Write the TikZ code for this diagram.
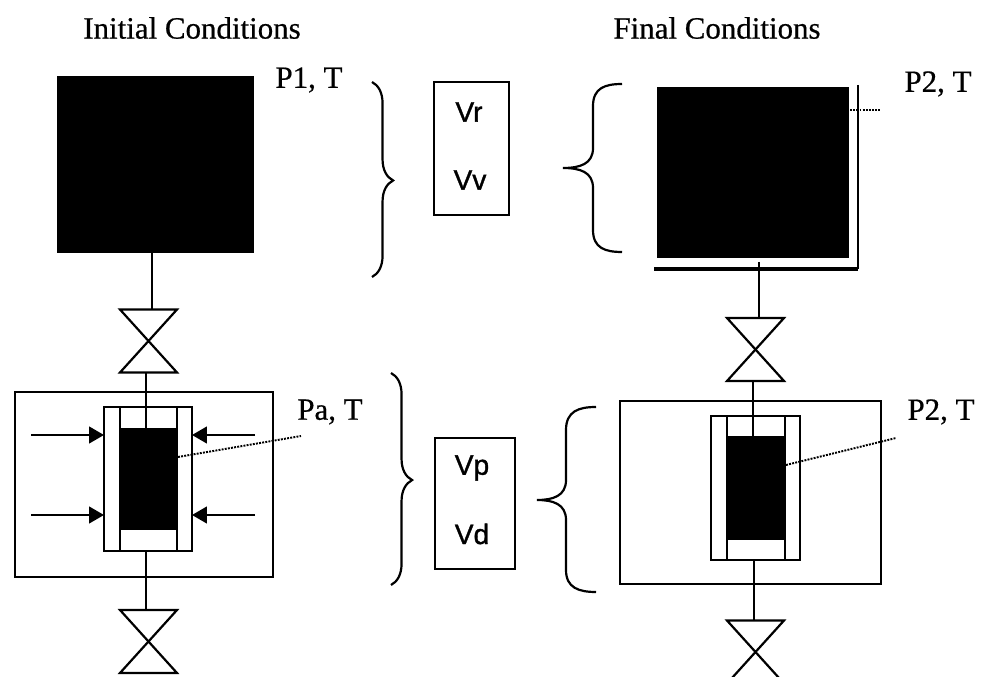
\documentclass[tikz,border=0pt]{standalone}
\usepackage{fontspec}
\setmainfont{Liberation Serif}[FakeBold=0.6]
\setsansfont{Liberation Sans}[FakeBold=1.2]
\usetikzlibrary{arrows.meta,decorations.pathreplacing}

\begin{document}
\begin{tikzpicture}[x=0.2mm, y=-0.2mm, line width=1.25pt,
    title/.style = {font=\fontsize{17.6}{20}\selectfont},
    volume/.style = {font=\sffamily\fontsize{16}{18}\selectfont},
    solid box/.style = {draw, fill=black, inner sep=0, outer sep=0},
    open box/.style = {draw, inner sep=0, outer sep=0},
    valve/.style = {inner sep=0, outer sep=0, minimum width=11.4mm, minimum height=12.6mm},
    push/.style = {-{Triangle[length=8.5pt, width=9.5pt]}},
    probe/.style = {dash pattern=on 1.1pt off 0.7pt, line width=1.1pt},
    curly/.style = {decorate, decoration={brace, amplitude=#1, aspect=0.505}}]
    \useasboundingbox (0,0) rectangle (983,677);
    \clip (0,0) rectangle (983,677);

    % headings and labels
    \node[title] (initial) at (192,28) {Initial Conditions};
    \node[title] (final) at (717,28) {Final Conditions};
    \node[title] (p1) at (309,80) {P1, T};
    \node[title] (pa) at (330,412) {Pa, T};
    \node[title] (p2top) at (938,84) {P2, T};
    \node[title] (p2low) at (941,412) {P2, T};

    % tanks
    \node[solid box, minimum width=39mm, minimum height=35mm] (tankA) at (155.5,164.5) {};
    \node[solid box, minimum width=38mm, minimum height=33.8mm] (tankB) at (753,172.5) {};
    \coordinate (wallB) at (858,85);
    \coordinate (footB) at (654,269);
    \draw (wallB) -- (wallB |- footB);
    \draw[line width=2pt] (footB) -- (wallB |- footB);

    % valves
    \node[valve] (valveA) at (148.5,341) {};
    \node[valve] (valveB) at (148.5,641.5) {};
    \node[valve] (valveC) at (755.5,349.5) {};
    \node[valve] (valveD) at (755.5,652) {};
    \foreach \v in {valveA, valveB, valveC, valveD}
        \draw (\v.north west) -- (\v.south east) -- (\v.south west) -- (\v.north east) -- cycle;

    % sample holders
    \node[open box, minimum width=51.6mm, minimum height=37mm] (ovenA) at (144,484.5) {};
    \node[open box, minimum width=17.6mm, minimum height=28.8mm] (cellA) at (148,479) {};
    \node[solid box, minimum width=11.4mm, minimum height=20mm] (sampleA) at (148.5,479) {};
    \node[open box, minimum width=52.2mm, minimum height=36.6mm] (ovenB) at (750.5,492.5) {};
    \node[open box, minimum width=17.8mm, minimum height=28.8mm] (cellB) at (755.5,488) {};
    \node[solid box, minimum width=11.6mm, minimum height=20.4mm] (sampleB) at (756,488) {};
    \foreach \c/\s in {cellA/sampleA, cellB/sampleB} {
        \draw (\s.west |- \c.north) -- (\s.west |- \c.south);
        \draw (\s.east |- \c.north) -- (\s.east |- \c.south);
    }

    % pipes
    \coordinate (pipeA) at (152,252);
    \coordinate (pipeB) at (146,372);
    \coordinate (pipeC) at (146,551);
    \coordinate (pipeD) at (759,262);
    \coordinate (pipeE) at (753,381);
    \coordinate (pipeF) at (754,560);
    \draw (pipeA) -- (pipeA |- valveA.north);
    \draw (pipeB) -- (pipeB |- sampleA.north);
    \draw (pipeC) -- (pipeC |- valveB.north);
    \draw (pipeD) -- (pipeD |- valveC.north);
    \draw (pipeE) -- (pipeE |- sampleB.north);
    \draw (pipeF) -- (pipeF |- valveD.north);

    % confining arrows
    \coordinate (pushA) at (31,435);
    \coordinate (pushB) at (31,515);
    \coordinate (pushC) at (255,435);
    \coordinate (pushD) at (255,515);
    \draw[push] (pushA) -- (pushA -| cellA.west);
    \draw[push] (pushB) -- (pushB -| cellA.west);
    \draw[push] (pushC) -- (pushC -| cellA.east);
    \draw[push] (pushD) -- (pushD -| cellA.east);

    % volume boxes
    \node[open box, minimum width=15mm, minimum height=26.6mm] (upper) at (471.5,148.5) {};
    \node[open box, minimum width=16mm, minimum height=26.2mm] (lower) at (475,503.5) {};
    \node[volume] (vr) at (469,112) {Vr};
    \node[volume] (vv) at (470,180) {Vv};
    \node[volume] (vp) at (472,468) {Vp};
    \node[volume] (vd) at (472,534) {Vd};

    % braces
    \coordinate (braceA) at (372,82);
    \coordinate (braceB) at (372,277);
    \coordinate (braceC) at (391,373);
    \coordinate (braceD) at (391,585);
    \coordinate (braceE) at (622,84);
    \coordinate (braceF) at (622,252);
    \coordinate (braceG) at (596,407);
    \coordinate (braceH) at (596,592);
    \draw[curly=12pt] (braceA) -- (braceB);
    \draw[curly=12pt] (braceC) -- (braceD);
    \draw (braceE) .. controls (605,84) and (593,88) .. (593,106) -- (593,148)
        .. controls (593,164) and (580,168) .. (563,168)
        .. controls (580,168) and (593,172) .. (593,188) -- (593,230)
        .. controls (593,248) and (605,252) .. (braceF);
    \draw (braceG) .. controls (579,407) and (566,411) .. (566,430) -- (566,480)
        .. controls (566,496) and (553,500) .. (537,500)
        .. controls (553,500) and (566,504) .. (566,520) -- (566,570)
        .. controls (566,588) and (579,592) .. (braceH);

    % pointers
    \coordinate (probeA) at (178,457);
    \coordinate (probeB) at (301,436);
    \coordinate (probeC) at (850,110);
    \coordinate (probeD) at (880,110);
    \coordinate (probeE) at (786,465);
    \coordinate (probeF) at (896,438);
    \draw[probe] (probeA) -- (probeB);
    \draw[probe] (probeC) -- (probeD);
    \draw[probe] (probeE) -- (probeF);
\end{tikzpicture}
\end{document}
